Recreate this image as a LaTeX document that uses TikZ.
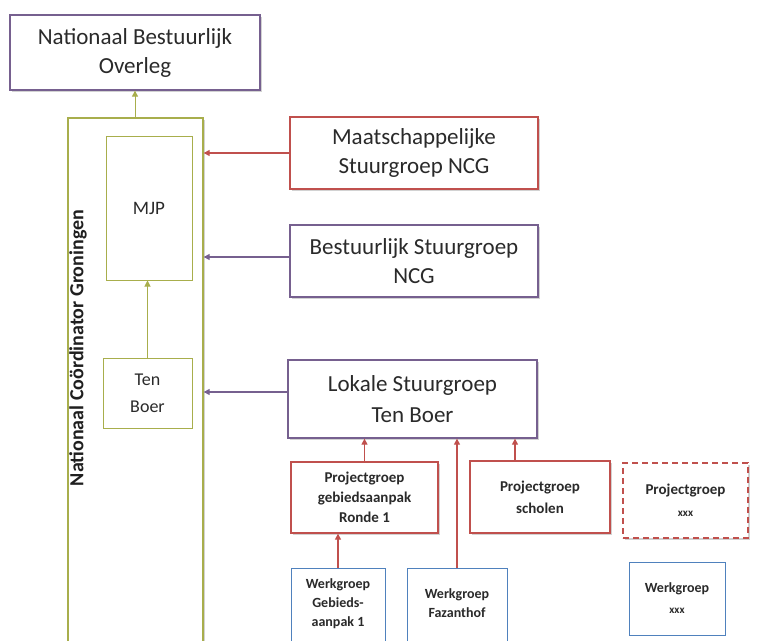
\documentclass[tikz,border=0pt]{standalone}
\usepackage{fontspec}
\setmainfont{Carlito}
\usetikzlibrary{arrows.meta,shadows}
\definecolor{purp}{HTML}{76608F}
\definecolor{redb}{HTML}{C0504D}
\definecolor{oliv}{HTML}{A8AE4C}
\definecolor{blub}{HTML}{4F81BD}
\definecolor{txt}{HTML}{2A2A2A}
\tikzset{
  box/.style={draw, line width=1.3pt, fill=white, align=center, text=txt, inner sep=2pt,
    drop shadow={shadow xshift=1.5pt, shadow yshift=-1.5pt, opacity=0.35, fill=black!50}},
  flat/.style={draw, line width=1pt, fill=white},
  sz/.style n args={2}{minimum width=#1, minimum height=#2},
  lbl/.style={align=center, text=txt, inner sep=0pt},
  arr/.style={line width=1.3pt, -{Triangle[length=6pt,width=6pt]}},
  big/.style={font=\fontsize{23}{29}\selectfont},
  small/.style={font=\fontsize{15}{20}\selectfont\bfseries},
  tiny/.style={font=\fontsize{14}{19}\selectfont\bfseries},
}
\begin{document}
\begin{tikzpicture}[x=1pt,y=-1pt]
\useasboundingbox (0,0) rectangle (760,640);
\clip (0,0) rectangle (760,640);
\fill[white] (0,0) rectangle (760,640);
% top
\node[box, draw=purp, sz={250pt}{75pt}, big] (nbo) at (135,52.5) {Nationaal Bestuurlijk\\Overleg};
% NCG big column
\node[box, draw=oliv, sz={135pt}{542pt}] (ncg) at (135.5,389) {};
\node[rotate=90, font=\fontsize{20}{24}\selectfont\bfseries, text=black!88] (ncgt) at (78,348) {Nationaal Coördinator Groningen};
\node[flat, draw=oliv, sz={86pt}{144pt}, lbl, font=\fontsize{19}{22}\selectfont] (mjp) at (149,208) {MJP};
\node[flat, draw=oliv, sz={89pt}{70pt}, lbl, font=\fontsize{18}{27}\selectfont] (tb) at (147.5,393) {Ten\\Boer};
% right column
\node[box, draw=redb, sz={248pt}{72pt}, big] (msg) at (414,153) {Maatschappelijke\\Stuurgroep NCG};
\node[box, draw=purp, sz={248pt}{72pt}, big] (bsg) at (414,261) {Bestuurlijk Stuurgroep\\NCG};
\node[box, draw=purp, sz={249pt}{78pt}, font=\fontsize{23}{31}\selectfont] (lsg) at (412.5,399) {Lokale Stuurgroep\\Ten Boer};
% projectgroepen
\node[box, draw=redb, sz={147pt}{71pt}, small] (pg1) at (364.5,497.5) {Projectgroep\\gebiedsaanpak\\Ronde 1};
\node[box, draw=redb, sz={140pt}{72pt}, font=\fontsize{15}{22}\selectfont\bfseries] (pgs) at (540,497) {Projectgroep\\scholen};
\node[box, draw=redb, dashed, dash pattern=on 6pt off 4pt, sz={125pt}{75pt}, font=\fontsize{15}{22}\selectfont\bfseries] (pgx) at (685.5,500.5) {Projectgroep\\{\fontsize{11}{12}\selectfont xxx}};
% werkgroepen
\node[flat, draw=blub, sz={94pt}{82pt}] (wg1) at (338,609) {};
\node[lbl, tiny] (wg1t) at (338,604) {Werkgroep\\Gebieds-\\aanpak 1};
\node[flat, draw=blub, sz={100pt}{82pt}] (wgf) at (457,609) {};
\node[lbl, tiny] (wgft) at (457,603) {Werkgroep\\Fazanthof};
\node[flat, draw=blub, sz={96pt}{73pt}, lbl, font=\fontsize{14}{21}\selectfont\bfseries] (wgx) at (677,598.5) {Werkgroep\\{\fontsize{11}{12}\selectfont xxx}};
% arrows
\draw[arr, draw=oliv, line width=1pt] (ncg.north -| nbo.south) -- (nbo.south);
\draw[arr, draw=oliv, line width=1pt] (tb.north) -- (tb.north |- mjp.south);
\draw[arr, draw=redb] (msg.west) -- (msg.west -| ncg.east);
\draw[arr, draw=purp] (bsg.west) ++(0,-4) coordinate (b1) -- (b1 -| ncg.east);
\draw[arr, draw=purp] (lsg.west) ++(0,-7) coordinate (l1) -- (l1 -| ncg.east);
\draw[arr, draw=redb] (pg1.north) -- (pg1.north |- lsg.south);
\draw[arr, draw=redb] (pgs.north -| 515,0) coordinate (s1) -- (s1 |- lsg.south);
\draw[arr, draw=redb] (wgf.north) -- (wgf.north |- lsg.south);
\draw[arr, draw=redb] (wg1.north) -- (wg1.north |- pg1.south);
\end{tikzpicture}
\end{document}
